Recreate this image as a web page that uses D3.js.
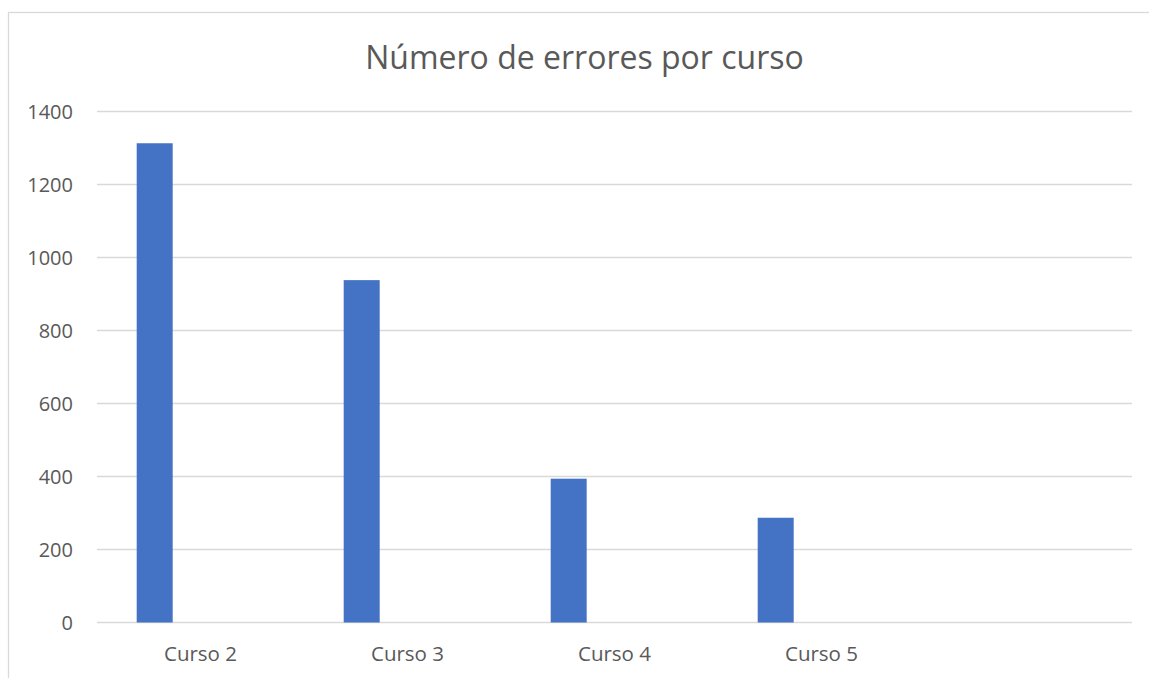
<!DOCTYPE html>
<html>
<head>
<meta charset="utf-8">
<script src="https://cdn.jsdelivr.net/npm/d3@7"></script>
<style>
  body { margin: 0; background: #fff; }
  svg { display: block; font-family: "Open Sans", sans-serif; }
</style>
</head>
<body>
<div id="chart"></div>
<script>
// Data
const categories = ["Curso 2", "Curso 3", "Curso 4", "Curso 5", ""];
const errores = [1313, 938, 394, 287, null];
const yTicks = [0, 200, 400, 600, 800, 1000, 1200, 1400];
const title = "Número de errores por curso";

const width = 1149, height = 678;
const margin = {top: 111.5, right: 17, bottom: 55.5, left: 97};

const svg = d3.select("#chart").append("svg")
  .attr("width", width).attr("height", height);

// chart frame (partly outside the picture)
svg.append("rect")
  .attr("x", 8.5).attr("y", 12.5)
  .attr("width", 1160).attr("height", 700)
  .attr("fill", "#fff").attr("stroke", "#d9d9d9").attr("stroke-width", 1.3);

const x = d3.scaleBand()
  .domain(categories)
  .range([margin.left, width - margin.right])
  .paddingInner(0).paddingOuter(0);

// position of the single series inside each category band
const xInner = d3.scaleBand()
  .domain(["Errores", "_"])
  .range([0, x.bandwidth()])
  .paddingInner(0).paddingOuter(1.875).align(0.294);

const y = d3.scaleLinear()
  .domain([0, 1400])
  .range([height - margin.bottom, margin.top]);

// Grid
svg.append("g")
  .selectAll("line").data(yTicks).join("line")
  .attr("x1", margin.left).attr("x2", width - margin.right)
  .attr("y1", d => y(d)).attr("y2", d => y(d))
  .attr("stroke", "#d9d9d9").attr("stroke-width", 1.3);

// Y labels
svg.append("g")
  .selectAll("text").data(yTicks).join("text")
  .attr("x", 73).attr("y", d => y(d))
  .attr("text-anchor", "end").attr("dy", "0.35em")
  .attr("fill", "#595959").attr("font-size", 20)
  .text(d => d);

// Bars
const data = categories.map((c, i) => ({cat: c, v: errores[i]})).filter(d => d.v != null);
svg.append("g")
  .selectAll("rect").data(data).join("rect")
  .attr("x", d => x(d.cat) + xInner("Errores"))
  .attr("width", xInner.bandwidth())
  .attr("y", d => y(d.v))
  .attr("height", d => y(0) - y(d.v))
  .attr("fill", "#4472c4");

// X labels
svg.append("g")
  .selectAll("text").data(categories).join("text")
  .attr("x", d => x(d) + x.bandwidth() / 2)
  .attr("y", 661)
  .attr("text-anchor", "middle")
  .attr("fill", "#595959").attr("font-size", 20.5)
  .text(d => d);

// Title
svg.append("text")
  .attr("x", 584.5).attr("y", 68.5)
  .attr("text-anchor", "middle")
  .attr("fill", "#595959").attr("font-size", 32)
  .text(title);
</script>
</body>
</html>
